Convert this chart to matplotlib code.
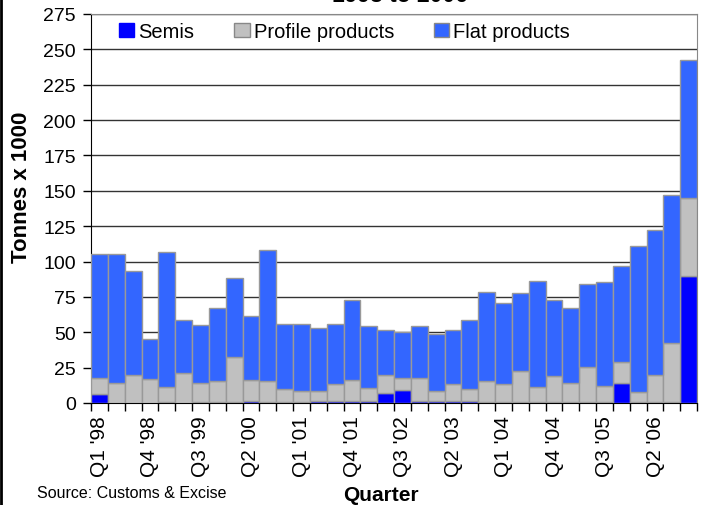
import numpy as np
import matplotlib.pyplot as plt
from matplotlib.patches import Patch
from matplotlib.lines import Line2D

plt.rcParams['font.family'] = ['Liberation Sans', 'DejaVu Sans']

# quarters Q1 '98 .. Q4 '06
quarters = [f"Q{q} '{y:02d}" for y in [98, 99, 0, 1, 2, 3, 4, 5, 6] for q in range(1, 5)]

semis = [6.4, 0.3, 0.3, 0.3, 0.7, 0.3, 0.8, 1.0, 1.0, 1.7, 1.0, 0.5,
         0.5, 1.5, 1.5, 1.5, 1.5, 7.3, 9.2, 1.7, 1.7, 1.5, 1.5, 0.5,
         0.5, 0.5, 1.0, 0.5, 0.5, 1.0, 0.5, 14.1, 0.5, 0.5, 0.5, 89.8]
semis_profile = [17.7, 14.4, 20.0, 16.7, 11.1, 21.0, 14.4, 15.3, 32.3, 16.5, 15.3, 9.7,
                 8.3, 8.5, 13.2, 16.5, 10.8, 19.8, 17.5, 17.5, 8.5, 13.2, 9.7, 15.4,
                 13.2, 22.4, 11.1, 18.9, 14.4, 25.5, 12.0, 28.8, 7.5, 19.8, 42.4, 145.2]
totals = [105.3, 105.3, 93.3, 45.0, 107.0, 58.5, 55.0, 67.4, 88.6, 61.7, 108.0, 56.0,
          56.0, 52.8, 56.0, 73.0, 54.7, 51.8, 50.4, 54.7, 49.0, 51.6, 58.5, 78.7,
          70.7, 77.5, 86.5, 73.0, 67.4, 84.4, 85.3, 96.6, 111.2, 122.5, 147.3, 242.5]

semis = np.array(semis)
profile = np.array(semis_profile) - semis
flat = np.array(totals) - np.array(semis_profile)

fig = plt.figure(figsize=(7.04, 5.06), dpi=100)
ax = fig.add_axes([0.1293, 0.2016, 0.861, 0.7688])

x = np.arange(len(quarters))
edge = "#999999"
ax.bar(x, semis, width=1.0, color="#0000FF", edgecolor=edge, linewidth=1, zorder=3)
ax.bar(x, profile, width=1.0, bottom=semis, color="#C0C0C0", edgecolor=edge, linewidth=1, zorder=3)
ax.bar(x, flat, width=1.0, bottom=semis + profile, color="#3366FF", edgecolor=edge, linewidth=1, zorder=3)

ax.set_xlim(-0.5, len(quarters) - 0.5)
ax.set_ylim(0, 275)
ax.set_yticks(np.arange(0, 276, 25))
ax.yaxis.grid(True, color="#333333", linewidth=1)
ax.set_axisbelow(True)

ax.set_xticks(x[::3])
ax.set_xticklabels(quarters[::3], rotation=90)
ax.set_xticks(np.arange(-0.5, len(quarters), 1), minor=True)
ax.tick_params(axis='x', which='major', length=0, pad=9, labelsize=15)
ax.tick_params(axis='x', which='minor', length=6, width=1, direction='out')
ax.tick_params(axis='y', length=6, width=1, labelsize=14, pad=5)

for s in ['top', 'right']:
    ax.spines[s].set_color("#888888")
ax.spines['left'].set_color("black")
ax.spines['bottom'].set_color("black")

ax.set_ylabel("Tonnes x 1000", fontsize=16, fontweight='bold')
ax.yaxis.set_label_coords(-0.097, 0.558)
ax.set_xlabel("Quarter", fontsize=15, fontweight='bold')
ax.xaxis.set_label_coords(0.4785, -0.212)

handles = [Patch(facecolor="#0000FF", edgecolor="#0000FF"),
           Patch(facecolor="#C0C0C0", edgecolor="#888888"),
           Patch(facecolor="#3366FF", edgecolor="#888888")]
ax.legend(handles, ["Semis", "Profile products", "Flat products"], ncol=3,
          loc='center left', bbox_to_anchor=(0.033, 0.955), frameon=False, fontsize=14.5,
          handlelength=0.75, handleheight=0.75, handletextpad=0.2, columnspacing=2.0,
          borderaxespad=0)

fig.text(0.568, 0.996, "1998 to 2006", ha='center', va='baseline',
         fontsize=16.5, fontweight='bold')
fig.text(0.052, 0.010, "Source: Customs & Excise", fontsize=11.5, ha='left', va='bottom')
fig.add_artist(Line2D([0.0015, 0.0015], [0, 1], color='black', linewidth=2,
                      transform=fig.transFigure))

fig.savefig("out.png", dpi=100)
